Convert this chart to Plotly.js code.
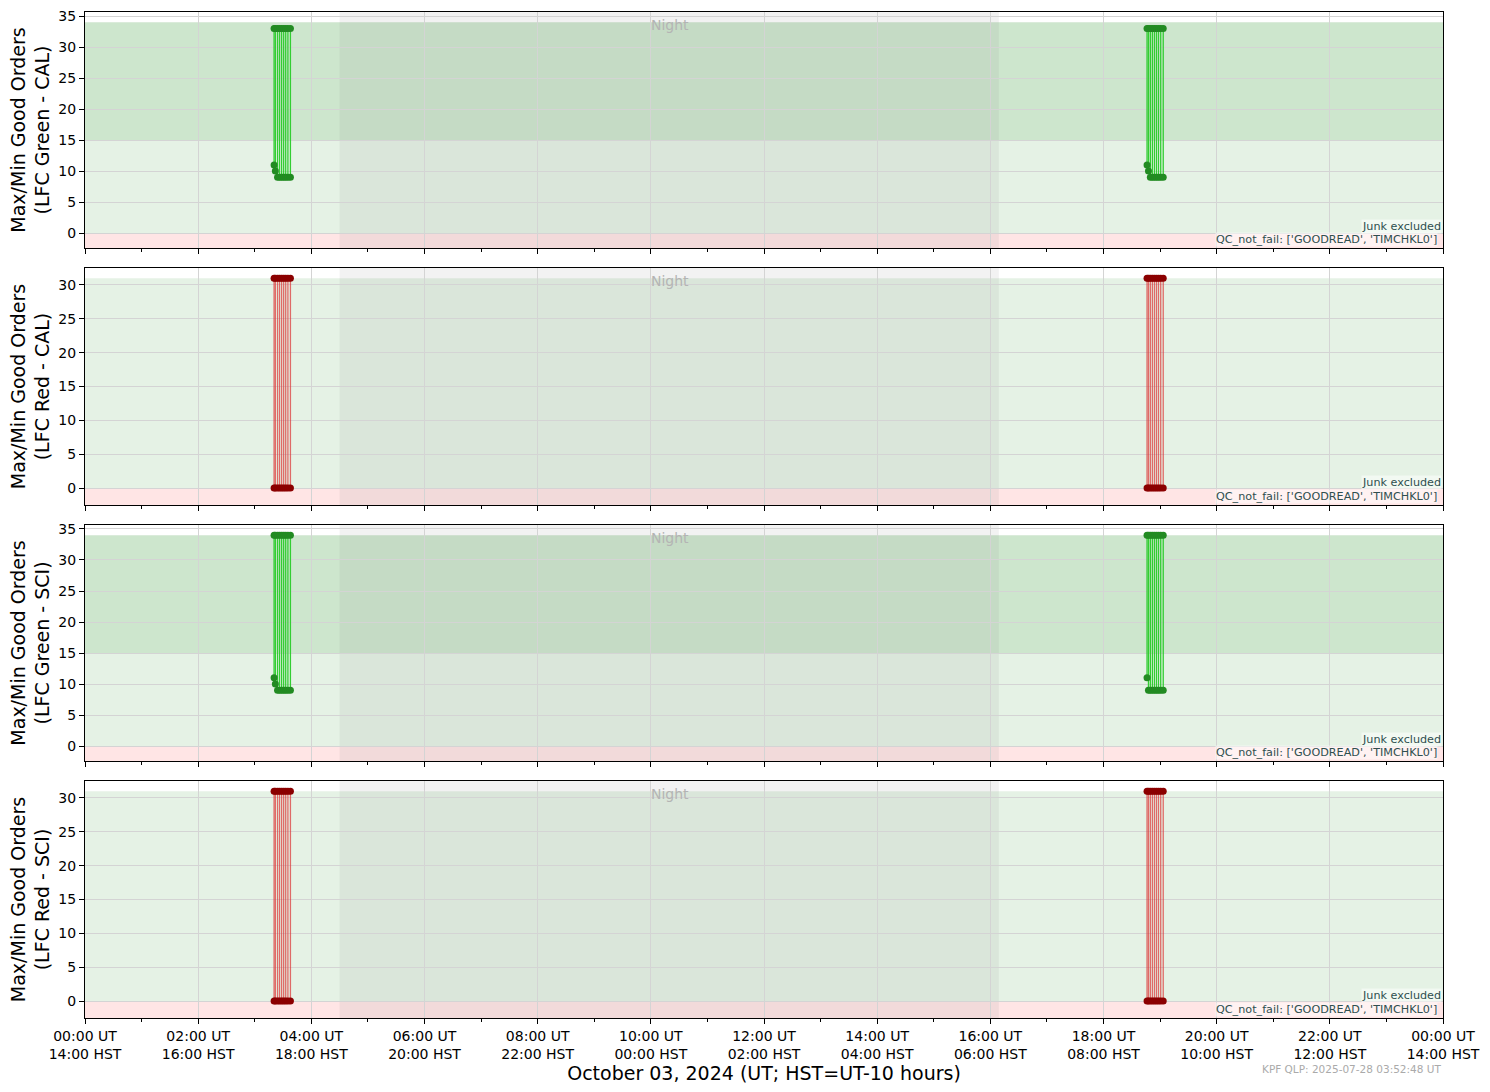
<!DOCTYPE html>
<html>
<head>
<meta charset="utf-8">
<script src="https://cdn.plot.ly/plotly-3.0.1.min.js"></script>
<style>html,body{margin:0;padding:0;background:#fff;}#chart{width:1490px;height:1092px;}</style>
</head>
<body>
<div id="chart"></div>
<script>
// ---------------- data ----------------
const DAY = '2024-10-03';
const NEXT_DAY = '2024-10-04';
const obsTimes = ['03:20:30', '03:21:50', '03:24:10', '03:26:20', '03:28:30', '03:30:40', '03:32:50', '03:35:10', '03:37:50',
                  '18:46:10', '18:47:40', '18:49:40', '18:51:50', '18:54:00', '18:56:10', '18:58:20', '19:00:40', '19:03:20'];

const greenCalMax = [33, 33, 33, 33, 33, 33, 33, 33, 33, 33, 33, 33, 33, 33, 33, 33, 33, 33];
const greenCalMin = [11, 10, 9, 9, 9, 9, 9, 9, 9, 11, 10, 9, 9, 9, 9, 9, 9, 9];
const redCalMax   = [31, 31, 31, 31, 31, 31, 31, 31, 31, 31, 31, 31, 31, 31, 31, 31, 31, 31];
const redCalMin   = [0, 0, 0, 0, 0, 0, 0, 0, 0, 0, 0, 0, 0, 0, 0, 0, 0, 0];
const greenSciMax = [34, 34, 34, 34, 34, 34, 34, 34, 34, 34, 34, 34, 34, 34, 34, 34, 34, 34];
const greenSciMin = [11, 10, 9, 9, 9, 9, 9, 9, 9, 11, 9, 9, 9, 9, 9, 9, 9, 9];
const redSciMax   = [31, 31, 31, 31, 31, 31, 31, 31, 31, 31, 31, 31, 31, 31, 31, 31, 31, 31];
const redSciMin   = [0, 0, 0, 0, 0, 0, 0, 0, 0, 0, 0, 0, 0, 0, 0, 0, 0, 0];

const panelTitles = ['Max/Min Good Orders<br>(LFC Green - CAL)', 'Max/Min Good Orders<br>(LFC Red - CAL)',
                     'Max/Min Good Orders<br>(LFC Green - SCI)', 'Max/Min Good Orders<br>(LFC Red - SCI)'];
const goodTop    = [34, 31, 34, 31];    // top of "good" band
const bestBottom = [15, null, 15, null]; // lower edge of darker band
const nightStart = '04:30';
const nightEnd   = '16:09';

const tickUT  = ['00:00 UT', '02:00 UT', '04:00 UT', '06:00 UT', '08:00 UT', '10:00 UT', '12:00 UT',
                 '14:00 UT', '16:00 UT', '18:00 UT', '20:00 UT', '22:00 UT', '00:00 UT'];
const tickHST = ['14:00 HST', '16:00 HST', '18:00 HST', '20:00 HST', '22:00 HST', '00:00 HST', '02:00 HST',
                 '04:00 HST', '06:00 HST', '08:00 HST', '10:00 HST', '12:00 HST', '14:00 HST'];
const tickHours = ['00', '02', '04', '06', '08', '10', '12', '14', '16', '18', '20', '22', '24'];
const minorHours = ['01', '03', '05', '07', '09', '11', '13', '15', '17', '19', '21', '23'];

const xTitle = 'October 03, 2024 (UT; HST=UT-10 hours)';
const stampText = 'KPF QLP: 2025-07-28 03:52:48 UT';
const junkText = 'Junk excluded';
const qcText = "QC_not_fail: ['GOODREAD', 'TIMCHKL0']";

// ---------------- build ----------------
const FONT = 'DejaVu Sans, Liberation Sans, sans-serif';
const xs = obsTimes.map(t => DAY + ' ' + t);
const hourToDate = h => (h === '24' ? NEXT_DAY + ' 00:00' : DAY + ' ' + h + ':00');
const tickVals = tickHours.map(hourToDate);
const tickText = tickUT.map((u, i) => u + '<br>' + tickHST[i]);
const minorVals = minorHours.map(hourToDate);

const series = [
  {max: greenCalMax, min: greenCalMin, line: 'rgb(50,205,50)', marker: 'rgb(34,139,34)'},
  {max: redCalMax,   min: redCalMin,   line: 'rgba(220,60,60,0.75)', marker: 'rgb(139,0,0)'},
  {max: greenSciMax, min: greenSciMin, line: 'rgb(50,205,50)', marker: 'rgb(34,139,34)'},
  {max: redSciMax,   min: redSciMin,   line: 'rgba(220,60,60,0.75)', marker: 'rgb(139,0,0)'}
];
const yRanges = [[-2.4, 35.65], [-2.5, 32.5], [-2.4, 35.65], [-2.5, 32.5]];
const yTicks = [[0, 5, 10, 15, 20, 25, 30, 35], [0, 5, 10, 15, 20, 25, 30], [0, 5, 10, 15, 20, 25, 30, 35], [0, 5, 10, 15, 20, 25, 30]];
const domains = [[0.7654, 1.0], [0.5099, 0.7455], [0.2555, 0.4901], [0.0, 0.2356]];

const traces = [];
const shapes = [];
const annotations = [];
const layout = {
  width: 1490, height: 1092,
  margin: {l: 85, r: 47, t: 12, b: 74},
  paper_bgcolor: '#ffffff', plot_bgcolor: '#ffffff',
  showlegend: false,
  font: {family: FONT, size: 14, color: '#000'}
};

series.forEach((s, i) => {
  const n = i + 1;
  const xa = 'x' + (n === 1 ? '' : n);
  const ya = 'y' + (n === 1 ? '' : n);
  const segX = [], segY = [];
  xs.forEach((x, k) => { segX.push(x, x, null); segY.push(s.min[k], s.max[k], null); });
  traces.push({type: 'scatter', mode: 'lines', x: segX, y: segY, xaxis: xa, yaxis: ya,
               line: {color: s.line, width: 1.3}, hoverinfo: 'skip'});
  traces.push({type: 'scatter', mode: 'markers', x: xs, y: s.max, xaxis: xa, yaxis: ya,
               marker: {color: s.marker, size: 7, line: {width: 0}}});
  traces.push({type: 'scatter', mode: 'markers', x: xs, y: s.min, xaxis: xa, yaxis: ya,
               marker: {color: s.marker, size: 7, line: {width: 0}}});

  const xKey = 'xaxis' + (n === 1 ? '' : n);
  const yKey = 'yaxis' + (n === 1 ? '' : n);
  layout[xKey] = {
    type: 'date', range: [DAY + ' 00:00', NEXT_DAY + ' 00:00'],
    anchor: ya, matches: n === 1 ? undefined : 'x',
    tickmode: 'array', tickvals: tickVals, ticktext: tickText,
    showticklabels: n === 4,
    ticks: 'outside', ticklen: 5, tickwidth: 1, tickcolor: '#000',
    minor: {tickmode: 'array', tickvals: minorVals, ticks: 'outside', ticklen: 3, tickwidth: 1, tickcolor: '#000', showgrid: false},
    showgrid: true, gridcolor: '#d4d4d4', gridwidth: 1,
    showline: true, linecolor: '#000', linewidth: 1, mirror: true,
    zeroline: false, tickfont: {size: 14, family: FONT, color: '#000'}
  };
  if (n === 4) {
    layout[xKey].title = {text: xTitle, font: {size: 19, family: FONT, color: '#000'}, standoff: 2};
  }
  layout[yKey] = {
    domain: domains[i], anchor: xa, range: yRanges[i],
    tickmode: 'array', tickvals: yTicks[i],
    ticks: 'outside', ticklen: 5, tickwidth: 1, tickcolor: '#000',
    showgrid: true, gridcolor: '#d4d4d4', gridwidth: 1,
    showline: true, linecolor: '#000', linewidth: 1, mirror: true,
    zeroline: false, tickfont: {size: 14, family: FONT, color: '#000'},
    title: {text: panelTitles[i], font: {size: 19, family: FONT, color: '#000'}, standoff: 3}
  };

  // background bands
  shapes.push({type: 'rect', xref: xa + ' domain', yref: ya, x0: 0, x1: 1, y0: 0, y1: goodTop[i],
               fillcolor: 'rgba(0,128,0,0.1)', line: {width: 0}, layer: 'below'});
  if (bestBottom[i] !== null) {
    shapes.push({type: 'rect', xref: xa + ' domain', yref: ya, x0: 0, x1: 1, y0: bestBottom[i], y1: goodTop[i],
                 fillcolor: 'rgba(0,128,0,0.1)', line: {width: 0}, layer: 'below'});
  }
  shapes.push({type: 'rect', xref: xa + ' domain', yref: ya, x0: 0, x1: 1, y0: yRanges[i][0], y1: 0,
               fillcolor: 'rgba(255,0,0,0.1)', line: {width: 0}, layer: 'below'});
  shapes.push({type: 'rect', xref: xa, yref: ya + ' domain', x0: DAY + ' ' + nightStart, x1: DAY + ' ' + nightEnd, y0: 0, y1: 1,
               fillcolor: 'rgba(128,128,128,0.1)', line: {width: 0}, layer: 'below'});

  annotations.push({xref: xa, yref: ya + ' domain', x: DAY + ' 10:20', y: 0.945, text: 'Night', showarrow: false,
                    xanchor: 'center', yanchor: 'middle', font: {size: 14, family: FONT, color: '#b4b4b4'}});
  annotations.push({xref: xa + ' domain', yref: ya + ' domain', x: 0.999, y: 0.093, text: junkText, showarrow: false,
                    xanchor: 'right', yanchor: 'middle', bgcolor: 'rgba(255,255,255,0.5)', borderpad: 0,
                    font: {size: 11.2, family: FONT, color: '#2f4f4f'}});
  annotations.push({xref: xa + ' domain', yref: ya + ' domain', x: 0.9965, y: 0.034, text: qcText, showarrow: false,
                    xanchor: 'right', yanchor: 'middle', bgcolor: 'rgba(255,255,255,0.5)', borderpad: 0,
                    font: {size: 11.2, family: FONT, color: '#2f4f4f'}});
});

annotations.push({xref: 'paper', yref: 'paper', x: 1.0, y: -0.0505, text: stampText, showarrow: false,
                  xanchor: 'right', yanchor: 'middle', font: {size: 10.5, family: FONT, color: '#aaaaaa'}});

layout.shapes = shapes;
layout.annotations = annotations;

Plotly.newPlot('chart', traces, layout, {staticPlot: true, displayModeBar: false});
</script>
</body>
</html>
